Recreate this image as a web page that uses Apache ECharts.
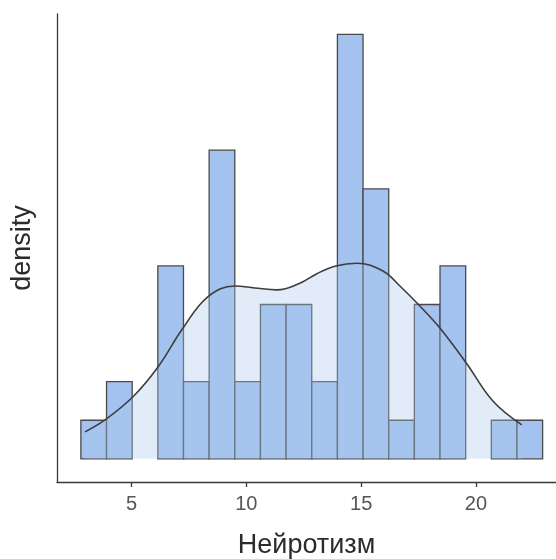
<!DOCTYPE html>
<html>
<head>
<meta charset="utf-8">
<script src="https://cdn.jsdelivr.net/npm/echarts@6/dist/echarts.min.js"></script>
<style>
  html, body { margin: 0; padding: 0; background: #fff; }
  #chart { width: 556px; height: 559px; }
</style>
</head>
<body>
<div id="chart"></div>
<script>
var chart = echarts.init(document.getElementById('chart'));

// гистограмма: 18 интервалов
var binStart = 2.79;
var binWidth = 19 / 17;
var counts = [1, 2, 0, 5, 2, 8, 2, 4, 4, 2, 11, 7, 1, 4, 5, 0, 1, 1];

// кривая плотности (в масштабе частот)
var densityX = [2.97, 3.84, 5.06, 6.15, 7.24, 8.32, 9.50, 10.37, 11.33, 12.33, 13.07, 13.90, 14.81, 15.95, 16.69, 17.56, 18.43, 19.61, 20.74, 22.00];
var densityY = [0.70, 1.01, 1.61, 2.38, 3.39, 4.20, 4.48, 4.43, 4.38, 4.55, 4.80, 5.00, 5.07, 4.87, 4.48, 3.96, 3.39, 2.46, 1.50, 0.88];

var tickLabels = [5, 10, 15, 20];

var fontName = 'Liberation Sans';
var barColor = '#a3c2f0';
var edgeColor = '#4a4a4a';

var bins = counts.map(function (c, i) {
    return [binStart + i * binWidth, binStart + (i + 1) * binWidth, c];
});
var density = densityX.map(function (x, i) {
    return [x, densityY[i]];
});

option = {
    animation: false,
    grid: {
        left: 57,
        right: 0,
        top: 14,
        bottom: 77,
        containLabel: false,
        outerBoundsMode: 'none'
    },
    xAxis: {
        type: 'value',
        min: 1.75,
        max: 23.49,
        name: 'Нейротизм',
        nameLocation: 'middle',
        nameGap: 50,
        nameTextStyle: { fontFamily: fontName, fontSize: 27, color: '#2b2b2b' },
        axisLine: { show: true, onZero: false, lineStyle: { color: '#3a3a3a', width: 1.3 } },
        axisTick: { show: true, length: 5, customValues: tickLabels, lineStyle: { color: '#3a3a3a', width: 1.3 } },
        axisLabel: { customValues: tickLabels, margin: 12, fontFamily: fontName, fontSize: 20, color: '#555' },
        splitLine: { show: false }
    },
    yAxis: {
        type: 'value',
        min: -0.6,
        max: 11.53,
        name: 'density',
        nameLocation: 'middle',
        nameGap: 21,
        nameTextStyle: { fontFamily: fontName, fontSize: 27, color: '#2b2b2b' },
        axisLine: { show: true, lineStyle: { color: '#3a3a3a', width: 1.3 } },
        axisTick: { show: false },
        axisLabel: { show: false },
        splitLine: { show: false }
    },
    series: [
        {
            type: 'custom',
            z: 1,
            data: bins,
            renderItem: function (params, api) {
                if (api.value(2) <= 0) return null;
                var p0 = api.coord([api.value(0), 0]);
                var p1 = api.coord([api.value(1), api.value(2)]);
                return {
                    type: 'rect',
                    shape: { x: p0[0], y: p1[1], width: p1[0] - p0[0], height: p0[1] - p1[1] },
                    style: { fill: barColor, stroke: edgeColor, lineWidth: 1.3 }
                };
            }
        },
        {
            type: 'line',
            z: 3,
            data: density,
            smooth: 0.4,
            symbol: 'none',
            lineStyle: { color: '#3d3d3d', width: 1.6 },
            areaStyle: { color: 'rgba(170,200,235,0.5)', origin: 'auto' }
        }
    ]
};

chart.setOption(option);
</script>
</body>
</html>
